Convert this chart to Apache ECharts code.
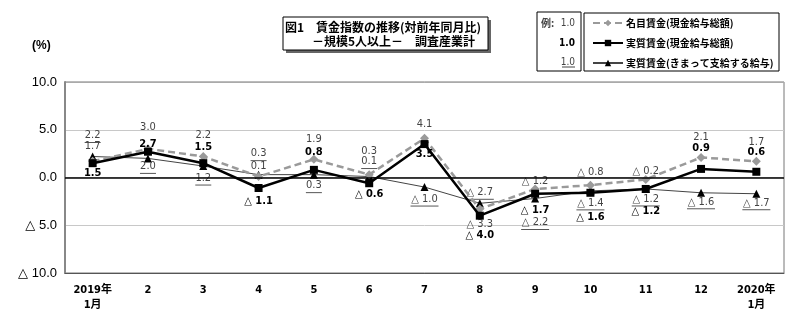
<!DOCTYPE html>
<html><head><meta charset="utf-8">
<script src="https://cdn.jsdelivr.net/npm/echarts@6/dist/echarts.min.js"></script>
<style>html,body{margin:0;padding:0;background:#fff}#c{width:800px;height:320px}</style>
</head><body><div id="c"></div>
<script>
const categories = ['2019年\n1月','2','3','4','5','6','7','8','9','10','11','12','2020年\n1月'];
const nominal   = [1.7, 3.0, 2.2, 0.1, 1.9, 0.3, 4.1, -3.3, -1.2, -0.8, -0.2, 2.1, 1.7];
const real      = [1.5, 2.7, 1.5, -1.1, 0.8, -0.6, 3.5, -4.0, -1.7, -1.6, -1.2, 0.9, 0.6];
const scheduled = [2.2, 2.0, 1.2, 0.3, 0.3, 0.1, -1.0, -2.7, -2.2, -1.4, -1.2, -1.6, -1.7];
const seriesNames = ['名目賃金(現金給与総額)', '実質賃金(現金給与総額)', '実質賃金(きまって支給する給与)'];
const yMin = -10, yMax = 10, yStep = 5;

// label vertical offsets (px) relative to each point
const nominalDy = [-15, -22, -21, -10, -20, -23, -14, 15, -8, -13, -8, -20, -19];
const realDy    = [10, -8, -16, 13, -18, 11, 10, 19, 16, 24, 22, -21, -20];
const schedDy   = [-20, 9, 13, -20, 12, -14, 13, -10, 25, 13, 11, 10, 10];

const NARROW = "'Liberation Sans Narrow','DejaVu Sans Condensed','Noto Sans CJK JP',sans-serif";
const CJK = "'Noto Sans CJK JP',sans-serif";

function fmt(v){ return v < 0 ? '△ ' + Math.abs(v).toFixed(1) : v.toFixed(1); }

function items(vals, dys){
  return vals.map((v,i)=>({value:v, label:{offset:[0, dys[i]]}}));
}

const chart = echarts.init(document.getElementById('c'), null, {renderer:'canvas'});
chart.setOption({
  backgroundColor:'#fff',
  animation:false,
  grid:{left:65, right:16, top:82, bottom:47, show:true, borderColor:'#777', borderWidth:1},
  xAxis:{
    type:'category', data:categories, boundaryGap:true,
    axisLine:{onZero:false, lineStyle:{color:'#555', width:1}},
    axisTick:{show:false},
    axisLabel:{color:'#000', fontSize:11, fontWeight:'bold', fontFamily:NARROW, margin:10, lineHeight:15}
  },
  yAxis:{
    type:'value', min:yMin, max:yMax, interval:yStep,
    axisLine:{show:true, lineStyle:{color:'#888', width:2}},
    axisTick:{show:false},
    splitLine:{show:true, lineStyle:{color:['#555','#c8c8c8','#c8c8c8','#c8c8c8','#aaa'], width:1}},
    axisLabel:{color:'#000', fontSize:13, fontFamily:"'Liberation Sans','DejaVu Sans',sans-serif", margin:8, formatter:v=>fmt(v)}
  },
  legend:{
    left:592, top:18, orient:'vertical', itemGap:10, itemWidth:30, itemHeight:8, padding:0,
    data:seriesNames,
    textStyle:{fontSize:10, fontWeight:'bold', color:'#000', fontFamily:CJK, padding:[0,0,0,-2]}
  },
  graphic:[
    {type:'rect', shape:{x:286, y:20, width:205, height:33}, style:{fill:'#666'}, silent:true},
    {type:'rect', shape:{x:283, y:17, width:205, height:33}, style:{fill:'#fff', stroke:'#000', lineWidth:1}, silent:true},
    {type:'text', x:285, y:27, style:{text:'図1　賃金指数の推移(対前年同月比)', font:"bold 12px 'Noto Sans CJK JP'", fill:'#000', textVerticalAlign:'middle'}},
    {type:'text', x:312, y:41, style:{text:'－規模5人以上－　調査産業計', font:"bold 12px 'Noto Sans CJK JP'", fill:'#000', textVerticalAlign:'middle'}},
    {type:'rect', shape:{x:537, y:12, width:44, height:59}, style:{fill:'none', stroke:'#000', lineWidth:1}, silent:true},
    {type:'rect', shape:{x:584, y:13, width:195, height:58}, style:{fill:'none', stroke:'#000', lineWidth:1}, silent:true},
    {type:'text', x:541, y:23, style:{text:'例:', font:"bold 10px 'Noto Sans CJK JP'", fill:'#444', textVerticalAlign:'middle'}},
    {type:'text', x:575, y:23, style:{text:'1.0', font:"10px "+NARROW, fill:'#444', textAlign:'right', textVerticalAlign:'middle'}},
    {type:'text', x:575, y:43, style:{text:'1.0', font:"bold 10px "+NARROW, fill:'#000', textAlign:'right', textVerticalAlign:'middle'}},
    {type:'text', x:575, y:62, style:{text:'1.0', font:"10px "+NARROW, fill:'#444', textAlign:'right', textVerticalAlign:'middle'}},
    {type:'line', shape:{x1:562, y1:67, x2:575, y2:67}, style:{stroke:'#444', lineWidth:1}},
    {type:'text', x:32, y:46, style:{text:'(%)', font:"bold 12px 'Liberation Sans'", fill:'#000', textVerticalAlign:'middle'}}
  ],
  series:[
    {
      name:seriesNames[0], type:'line', data:items(nominal, nominalDy), z:3,
      symbol:'diamond', symbolSize:9,
      lineStyle:{color:'#9a9a9a', width:2.5, type:[7,4]},
      itemStyle:{color:'#9a9a9a'},
      label:{show:true, position:'inside', formatter:p=>fmt(p.value), color:'#444', fontSize:11, fontFamily:NARROW}
    },
    {
      name:seriesNames[1], type:'line', data:items(real, realDy), z:4,
      symbol:'rect', symbolSize:8,
      lineStyle:{color:'#000', width:2.5},
      itemStyle:{color:'#000'},
      label:{show:true, position:'inside', formatter:p=>fmt(p.value), color:'#000', fontSize:11, fontWeight:'bold', fontFamily:NARROW},
      markLine:{silent:true, symbol:'none', label:{show:false}, lineStyle:{color:'#000', width:1.5, type:'solid'}, data:[{yAxis:0}]}
    },
    {
      name:seriesNames[2], type:'line', data:items(scheduled, schedDy), z:2,
      symbol:'triangle', symbolSize:8,
      lineStyle:{color:'#444', width:1},
      itemStyle:{color:'#000'},
      label:{show:true, position:'inside', color:'#444', fontSize:11, fontFamily:NARROW,
        formatter:p=>{ const k = p.value < 0 ? '5' : '3'; return '{t'+k+'|'+fmt(p.value)+'}\n{u'+k+'|}'; },
        rich:{
          t3:{width:16, align:'center', color:'#444', fontSize:11, fontFamily:NARROW, lineHeight:12},
          u3:{width:16, height:1, lineHeight:2, backgroundColor:'#555'},
          t5:{width:28, align:'center', color:'#444', fontSize:11, fontFamily:NARROW, lineHeight:12},
          u5:{width:28, height:1, lineHeight:2, backgroundColor:'#555'}
        }
      }
    }
  ]
});
</script></body></html>
